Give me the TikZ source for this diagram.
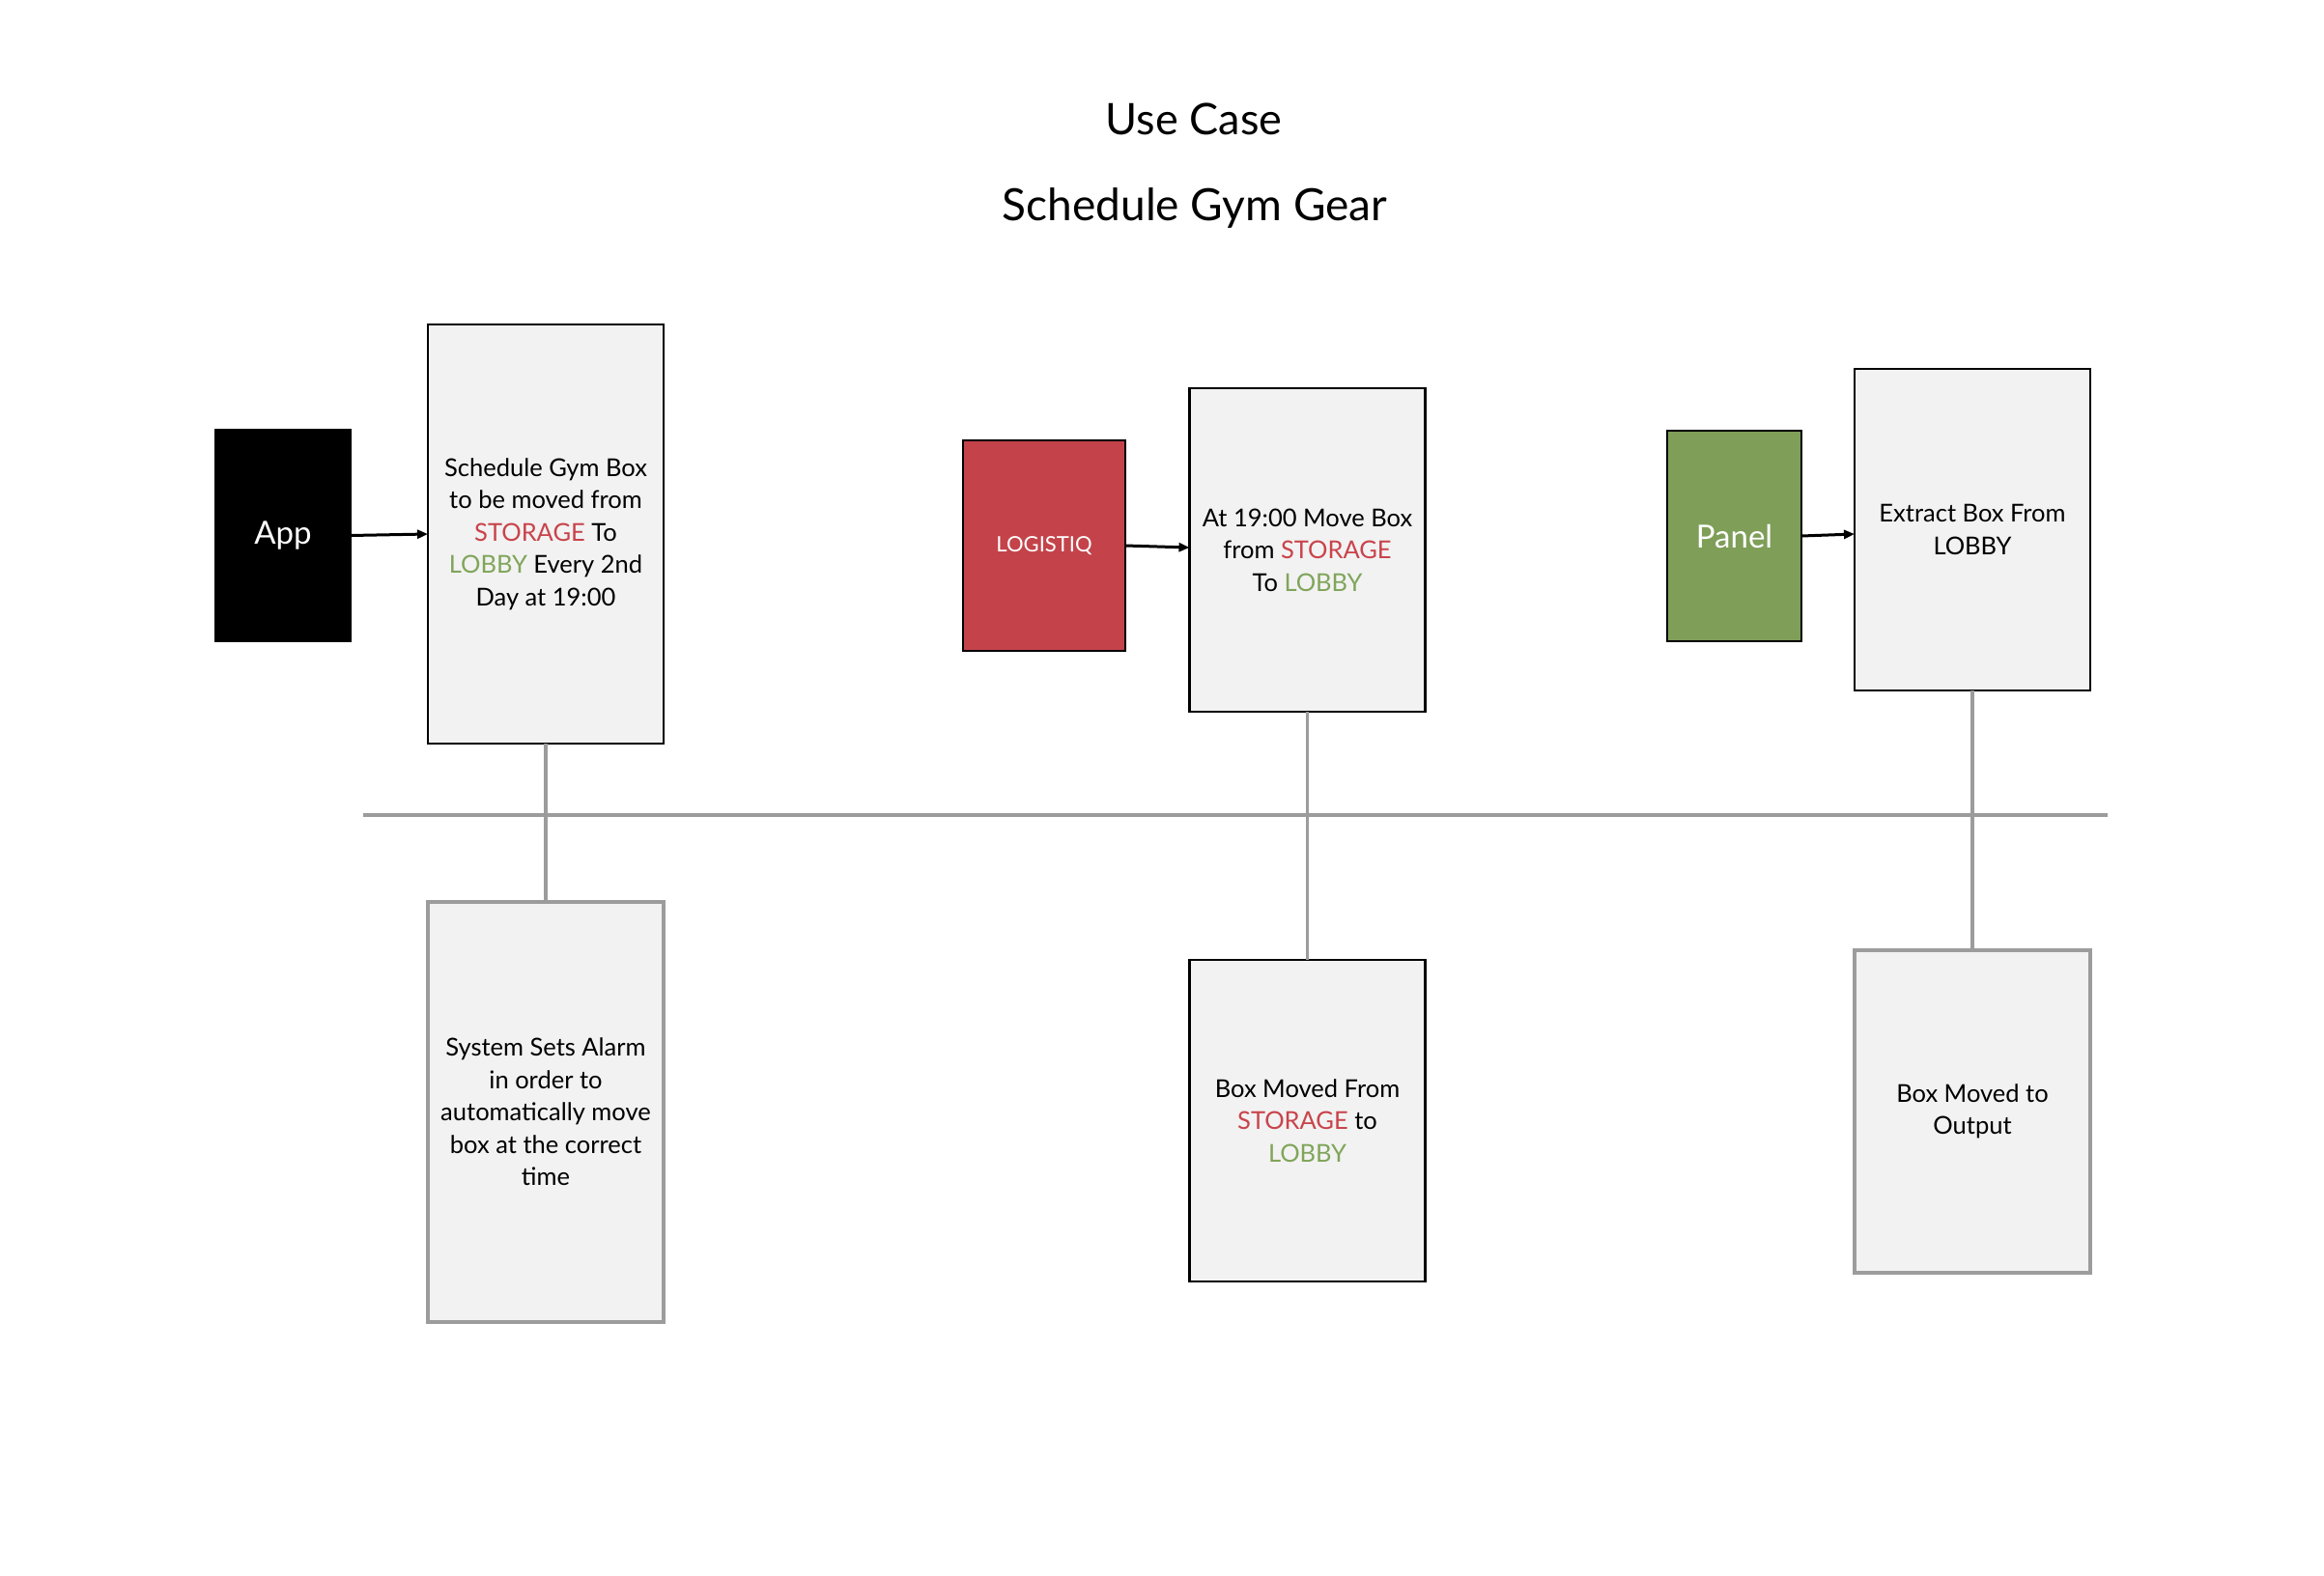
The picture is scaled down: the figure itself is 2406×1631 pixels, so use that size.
\documentclass[tikz,border=0pt]{standalone}
\usepackage{fontspec}
\setmainfont{Lato}
\usetikzlibrary{arrows.meta}
\definecolor{boxfill}{HTML}{F2F2F2}
\definecolor{redbox}{HTML}{C4434A}
\definecolor{greenbox}{HTML}{7F9E58}
\definecolor{redtxt}{HTML}{C9444B}
\definecolor{greentxt}{HTML}{80A55A}
\definecolor{linegray}{HTML}{9C9C9C}
\newcommand{\stor}{\textcolor{redtxt}{STORAGE}}
\newcommand{\lob}{\textcolor{greentxt}{LOBBY}}
\begin{document}
\begin{tikzpicture}[x=1pt,y=-1pt,
  every node/.style={inner sep=0pt, outer sep=0pt},
  stepbox/.style={rectangle, draw=black, line width=2.5pt, fill=boxfill,
    minimum width=244pt, align=center,
    font=\fontsize{25.5}{33.5}\selectfont},
  resultbox/.style={stepbox, draw=linegray, line width=4pt},
  resultboxdark/.style={stepbox, draw=black, line width=2.5pt},
  actor/.style={rectangle, draw=black, line width=2.5pt, text=white, align=center},
  flow/.style={line width=3pt, -{Triangle[length=11pt,width=9pt]}},
  tie/.style={draw=linegray, line width=3.5pt}
]
\useasboundingbox (0,0) rectangle (2406,1631);

\node[font=\fontsize{45}{52}\selectfont] (t1) at (1236,123) {Use Case};
\node[font=\fontsize{46}{54}\selectfont] (t2) at (1237,215) {Schedule Gym Gear};

% top boxes
\node[stepbox, minimum height=434pt] (sched) at (565,553)
  {Schedule Gym Box\\to be moved from\\\stor{} To\\\lob{} Every 2nd\\Day at 19:00};
\node[stepbox, minimum height=335pt] (midT) at (1353.5,569.5)
  {At 19:00 Move Box\\from \stor\\To \lob};
\node[stepbox, minimum height=333pt] (rightT) at (2042,548.5)
  {Extract Box From\\LOBBY};

% bottom boxes
\node[resultbox, minimum height=435pt] (botL) at (565,1151.5)
  {System Sets Alarm\\in order to\\automatically move\\box at the correct\\time};
\node[resultboxdark, minimum height=333pt] (midB) at (1353.5,1160.5)
  {Box Moved From\\\stor{} to\\\lob};
\node[resultbox, minimum height=334pt] (rightB) at (2042,1151)
  {Box Moved to\\Output};

% actors
\node[actor, fill=black, minimum width=139pt, minimum height=219pt,
  font=\fontsize{33}{38}\selectfont] (app) at (293,554.5) {App};
\node[actor, fill=redbox, minimum width=168pt, minimum height=218pt,
  font=\fontsize{22}{26}\selectfont] (logi) at (1081,565) {LOGISTIQ};
\node[actor, fill=greenbox, minimum width=139pt, minimum height=218pt,
  font=\fontsize{33}{38}\selectfont] (panel) at (1795.5,555) {Panel};

% timeline
\coordinate (hl) at (376,844);
\coordinate (hr) at (2182,844);
\draw[draw=linegray, line width=4pt] (hl) -- (hr);

\draw[tie] (sched.south) -- (botL.north);
\draw[tie] (midT.south) -- (midB.north);
\draw[tie] (rightT.south) -- (rightB.north);

% arrows
\draw[flow] (app.east) -- (sched.west);
\draw[flow] (logi.east) -- (midT.west |- 0,567);
\draw[flow] (panel.east) -- (rightT.west |- 0,553);
\end{tikzpicture}
\end{document}
